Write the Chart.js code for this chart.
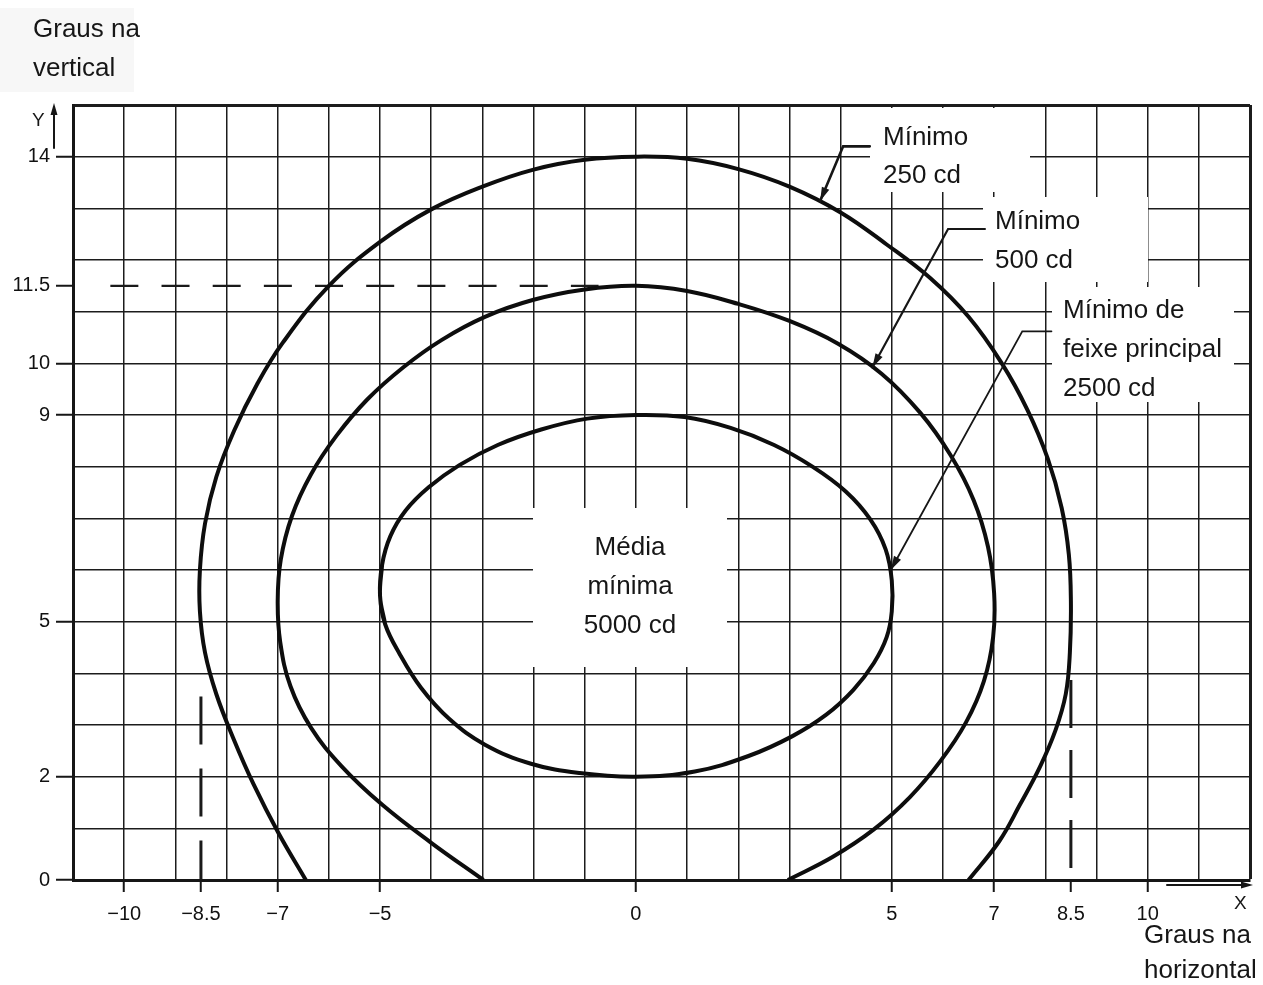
<!DOCTYPE html>
<html lang="pt">
<head>
<meta charset="utf-8">
<title>Distribuição de intensidade luminosa</title>
<script src="https://cdn.jsdelivr.net/npm/chart.js@4.4.1/dist/chart.umd.min.js"></script>
<style>
  html, body { margin: 0; padding: 0; background: #fff; }
  #wrap { width: 1263px; height: 985px; }
</style>
</head>
<body>
<div id="wrap"><canvas id="chart" width="1263" height="985"></canvas></div>
<script>
// labelled ticks on each axis (grid lines are every whole degree)
var xLabels = [-10, -8.5, -7, -5, 0, 5, 7, 8.5, 10];
var yLabels = [0, 2, 5, 9, 10, 11.5, 14];

// Mínimo 250 cd (outer contour)
var c250x = [-6.45, -6.98, -7.47, -7.87, -8.2, -8.42, -8.52, -8.52, -8.42, -8.2, -7.85, -7.4, -6.9, -6.0, -5.0, -4.0, -3.0, -2.0, -1.0, 0, 1.0, 2.0, 3.0, 4.0, 4.9, 5.75, 6.5, 7.15, 7.65, 8.05, 8.32, 8.46, 8.5, 8.48, 8.4, 8.2, 7.9, 7.5, 7.1, 6.5];
var c250y = [0, 0.9, 1.85, 2.75, 3.6, 4.4, 5.2, 6.0, 6.9, 7.8, 8.7, 9.6, 10.4, 11.5, 12.35, 12.98, 13.42, 13.75, 13.94, 14, 13.96, 13.76, 13.42, 12.92, 12.3, 11.65, 10.9, 10.0, 9.1, 8.15, 7.2, 6.3, 5.4, 4.4, 3.6, 2.9, 2.2, 1.45, 0.75, 0];

// Mínimo 500 cd (middle contour)
var c500x = [-2.98, -4.0, -4.95, -5.75, -6.35, -6.75, -6.95, -7.0, -6.94, -6.72, -6.35, -5.85, -5.25, -4.55, -3.8, -2.95, -2.0, -1.0, 0, 1.0, 2.0, 3.0, 3.95, 4.8, 5.55, 6.15, 6.6, 6.88, 7.0, 6.98, 6.8, 6.45, 5.95, 5.35, 4.65, 3.85, 2.97];
var c500y = [0, 0.72, 1.45, 2.2, 2.95, 3.75, 4.6, 5.4, 6.2, 7.05, 7.85, 8.6, 9.3, 9.92, 10.45, 10.9, 11.23, 11.43, 11.5, 11.4, 11.15, 10.82, 10.38, 9.8, 9.05, 8.22, 7.35, 6.45, 5.55, 4.7, 3.85, 3.05, 2.3, 1.6, 0.98, 0.45, 0];

// Mínimo de feixe principal 2500 cd (closed inner contour, last point = first)
var c2500x = [-5.0, -4.96, -4.8, -4.5, -4.05, -3.45, -2.7, -1.85, -0.95, 0, 0.95, 1.85, 2.7, 3.45, 4.1, 4.58, 4.88, 5.0, 5.0, 4.9, 4.65, 4.25, 3.72, 3.05, 2.2, 1.15, 0, -1.1, -2.05, -2.95, -3.65, -4.2, -4.62, -4.9, -5.0];
var c2500y = [5.5, 6.1, 6.65, 7.15, 7.6, 8.03, 8.42, 8.72, 8.93, 9.0, 8.96, 8.75, 8.42, 8.0, 7.52, 6.98, 6.4, 5.8, 5.2, 4.7, 4.2, 3.68, 3.2, 2.78, 2.4, 2.1, 2.0, 2.07, 2.25, 2.62, 3.12, 3.72, 4.38, 4.95, 5.5];

// dashed reference lines
var dashTopX = [-10.27, -0.73];
var dashTopY = [11.5, 11.5];
var dashLeftX = [-8.5, -8.5];
var dashLeftY = [3.55, 0];
var dashRightX = [8.5, 8.5];
var dashRightY = [3.87, 0];

// leader lines: text end, knee, arrow tip
var lead250x = [4.57, 4.05, 3.6];
var lead250y = [14.2, 14.2, 13.14];
var lead500x = [6.82, 6.1, 4.62];
var lead500y = [12.6, 12.6, 9.92];
var lead2500x = [8.12, 7.55, 4.98];
var lead2500y = [10.62, 10.62, 6.0];

function pts(xs, ys) {
  return xs.map(function (x, i) { return { x: x, y: ys[i] }; });
}

function fmt(v) {
  return v < 0 ? '\u2212' + Math.abs(v) : String(v);
}

var INK = '#161616';
var CLEAR = 'rgba(0,0,0,0)';
var tickFont = { family: '"Liberation Sans Narrow", "Liberation Sans", Arial, sans-serif', size: 20 };
var textFont = '26px "Liberation Sans", Arial, sans-serif';

function contour(xs, ys) {
  return {
    data: pts(xs, ys), showLine: true, borderColor: '#0d0d0d', borderWidth: 4,
    pointRadius: 0, tension: 0.4, fill: false
  };
}

// closed loop: repeat a neighbour on each end so the spline has no corner at the seam
function loop(xs, ys) {
  var p = pts(xs, ys);
  var n = p.length;
  var ds = contour(xs, ys);
  ds.data = [p[n - 2]].concat(p, [p[1]]);
  return ds;
}

function dashed(xs, ys, width, dash) {
  return {
    data: pts(xs, ys), showLine: true, borderColor: '#1a1a1a', borderWidth: width,
    borderDash: dash, pointRadius: 0, tension: 0, fill: false
  };
}

function arrowHead(ctx, fx, fy, tx, ty, len, half) {
  var a = Math.atan2(ty - fy, tx - fx);
  ctx.beginPath();
  ctx.moveTo(tx, ty);
  ctx.lineTo(tx - len * Math.cos(a) + half * Math.sin(a), ty - len * Math.sin(a) - half * Math.cos(a));
  ctx.lineTo(tx - len * Math.cos(a) - half * Math.sin(a), ty - len * Math.sin(a) + half * Math.cos(a));
  ctx.closePath();
  ctx.fill();
}

var paperPlugin = {
  id: 'paper',
  beforeDraw: function (chart) {
    var ctx = chart.ctx;
    ctx.save();
    ctx.fillStyle = '#fff';
    ctx.fillRect(0, 0, chart.width, chart.height);
    ctx.fillStyle = '#f7f7f7';
    ctx.fillRect(0, 8, 134, 84);
    ctx.restore();
  },
  beforeDatasetsDraw: function (chart) {
    // blank patches behind the callouts
    var ctx = chart.ctx;
    ctx.save();
    ctx.fillStyle = '#fff';
    ctx.fillRect(870, 108, 160, 84);
    ctx.fillRect(983, 197, 165, 85);
    ctx.fillRect(1052, 287, 182, 115);
    ctx.fillRect(533, 508, 194, 159);
    ctx.restore();
  },
  afterDatasetsDraw: function (chart) {
    var ctx = chart.ctx;
    var sx = chart.scales.x, sy = chart.scales.y;
    ctx.save();
    ctx.strokeStyle = INK;
    ctx.fillStyle = INK;
    ctx.lineCap = 'round';

    [[lead250x, lead250y, 2.6], [lead500x, lead500y, 2.2], [lead2500x, lead2500y, 1.8]].forEach(function (l) {
      var px = l[0].map(function (v) { return sx.getPixelForValue(v); });
      var py = l[1].map(function (v) { return sy.getPixelForValue(v); });
      ctx.lineWidth = l[2];
      ctx.beginPath();
      ctx.moveTo(px[0], py[0]);
      ctx.lineTo(px[1], py[1]);
      ctx.lineTo(px[2], py[2]);
      ctx.stroke();
      arrowHead(ctx, px[1], py[1], px[2], py[2], 14, 4);
    });

    // axis arrows
    ctx.lineWidth = 2;
    ctx.beginPath();
    ctx.moveTo(54, 148);
    ctx.lineTo(54, 112);
    ctx.stroke();
    arrowHead(ctx, 54, 148, 54, 103, 12, 3.5);
    ctx.beginPath();
    ctx.moveTo(1167, 885);
    ctx.lineTo(1242, 885);
    ctx.stroke();
    arrowHead(ctx, 1167, 885, 1253, 885, 12, 3.5);

    ctx.font = '19px "Liberation Sans Narrow", "Liberation Sans", Arial, sans-serif';
    ctx.textBaseline = 'alphabetic';
    ctx.textAlign = 'left';
    ctx.fillText('Y', 32, 126);
    ctx.fillText('X', 1234, 909);

    ctx.font = textFont;
    function lines(arr, x, y0, step, align) {
      ctx.textAlign = align;
      arr.forEach(function (t, i) { ctx.fillText(t, x, y0 + i * step); });
    }
    lines(['Mínimo', '250 cd'], 883, 145, 38, 'left');
    lines(['Mínimo', '500 cd'], 995, 229, 39, 'left');
    lines(['Mínimo de', 'feixe principal', '2500 cd'], 1063, 318, 39, 'left');
    lines(['Média', 'mínima', '5000 cd'], 630, 555, 39, 'center');
    lines(['Graus na', 'vertical'], 33, 37, 39, 'left');
    lines(['Graus na', 'horizontal'], 1144, 943, 35, 'left');
    ctx.restore();
  }
};

function wholeTicks(scale, lo, hi, extra) {
  var t = [];
  for (var v = lo; v <= hi; v++) t.push(v);
  extra.forEach(function (e) { if (t.indexOf(e) < 0) t.push(e); });
  t.sort(function (a, b) { return a - b; });
  scale.ticks = t.map(function (v) { return { value: v }; });
}

var config = {
  type: 'scatter',
  data: {
    datasets: [
      contour(c250x, c250y),
      contour(c500x, c500y),
      loop(c2500x, c2500y),
      dashed(dashTopX, dashTopY, 2.4, [28, 23.17]),
      dashed(dashLeftX, dashLeftY, 3, [48, 24]),
      dashed(dashRightX, dashRightY, 3, [48, 22])
    ]
  },
  options: {
    responsive: false,
    animation: false,
    events: [],
    layout: { padding: { left: 0, right: 13, top: 105, bottom: 0 } },
    plugins: { legend: { display: false }, tooltip: { enabled: false } },
    scales: {
      x: {
        type: 'linear', min: -11, max: 12,
        afterBuildTicks: function (s) { wholeTicks(s, -11, 12, [-8.5, 8.5]); },
        afterFit: function (s) { s.height = 105; },
        border: { color: INK, width: 3 },
        grid: {
          color: function (c) { return c.tick && Number.isInteger(c.tick.value) ? '#1c1c1c' : CLEAR; },
          lineWidth: function (c) { return c.tick && c.tick.value === 12 ? 3 : 1.5; },
          tickLength: 12,
          tickWidth: 2,
          tickColor: function (c) { return c.tick && xLabels.indexOf(c.tick.value) >= 0 ? INK : CLEAR; }
        },
        ticks: {
          autoSkip: false, maxRotation: 0, minRotation: 0, padding: 10,
          font: tickFont, color: '#111',
          callback: function (v) { return xLabels.indexOf(v) >= 0 ? fmt(v) : ''; }
        }
      },
      y: {
        type: 'linear', min: 0, max: 15,
        afterBuildTicks: function (s) { wholeTicks(s, 0, 15, [11.5]); },
        afterFit: function (s) { s.width = 73; },
        border: { color: INK, width: 3 },
        grid: {
          color: function (c) { return c.tick && Number.isInteger(c.tick.value) ? '#1c1c1c' : CLEAR; },
          lineWidth: function (c) { return c.tick && c.tick.value === 15 ? 3 : 1.5; },
          tickLength: 17,
          tickWidth: 2,
          tickColor: function (c) { return c.tick && yLabels.indexOf(c.tick.value) >= 0 ? INK : CLEAR; }
        },
        ticks: {
          autoSkip: false, padding: 6,
          font: tickFont, color: '#111',
          callback: function (v) { return yLabels.indexOf(v) >= 0 ? fmt(v) : ''; }
        }
      }
    }
  },
  plugins: [paperPlugin]
};

window.onload = function () {
  var ctx = document.getElementById('chart');
  window.isoChart = new Chart(ctx, config);
};
</script>
</body>
</html>
